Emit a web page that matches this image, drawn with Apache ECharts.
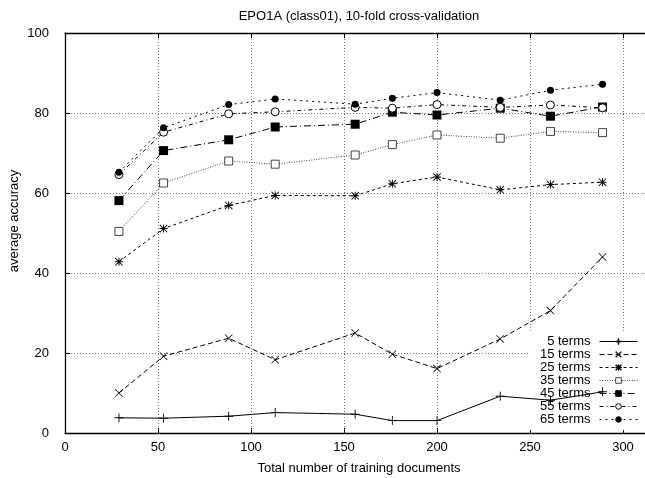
<!DOCTYPE html>
<html><head><meta charset="utf-8">
<script src="https://cdn.jsdelivr.net/npm/echarts@6/dist/echarts.min.js"></script>
<style>html,body{margin:0;padding:0;background:#fff}#c{width:645px;height:478px}</style>
</head><body><div id="c"></div>
<script>
const docs = [29, 53, 88, 113, 156, 176, 200, 234, 261, 289];
const terms5  = [3.8, 3.7, 4.2, 5.1, 4.7, 3.1, 3.1, 9.2, 8.2, 10.3];
const terms15 = [10.0, 19.2, 23.7, 18.3, 25.0, 19.7, 16.1, 23.5, 30.6, 44.0];
const terms25 = [42.8, 51.1, 56.9, 59.4, 59.3, 62.3, 64.0, 60.8, 62.1, 62.7];
const terms35 = [50.4, 62.5, 68.0, 67.2, 69.5, 72.1, 74.5, 73.7, 75.4, 75.1];
const terms45 = [58.1, 70.6, 73.3, 76.5, 77.2, 80.2, 79.5, 81.2, 79.2, 81.5];
const terms55 = [64.6, 75.2, 79.8, 80.3, 81.4, 81.2, 82.1, 81.4, 82.0, 81.3];
const terms65 = [65.2, 76.3, 82.1, 83.5, 82.2, 83.7, 85.1, 83.2, 85.7, 87.2];
const seriesNames = ['5 terms','15 terms','25 terms','35 terms','45 terms','55 terms','65 terms'];
const xTicks = {min: 0, max: 350, interval: 50};
const yTicks = {min: 0, max: 100, interval: 20};

const FONT = '"Liberation Sans", Arial, sans-serif';
const PLUS = 'path://M0,4.5H10V5.5H0Z M4.5,0H5.5V10H4.5Z';
const CROSS = 'path://M0.7,0L10,9.3L9.3,10L0,0.7Z M9.3,0L10,0.7L0.7,10L0,9.3Z';
const STAR = 'path://M0,4.4H10V5.6H0Z M4.4,0H5.6V10H4.4Z M0.8,0L10,9.2L9.2,10L0,0.8Z M9.2,0L10,0.8L0.8,10L0,9.2Z';

const styles = [
  {sym: PLUS, size: 9, dash: 'solid', color: '#000', fill: '#000', bw: 0},
  {sym: CROSS, size: 8, dash: [5,3], color: '#000', fill: '#000', bw: 0},
  {sym: STAR, size: 8, dash: [3,3], color: '#000', fill: '#000', bw: 0},
  {sym: 'rect', size: 8, dash: [1,1.5], color: '#444', fill: '#fff', bw: 1},
  {sym: 'rect', size: 9, dash: [7,3,1,3], color: '#000', fill: '#000', bw: 0},
  {sym: 'circle', size: 8, dash: [4,3,1,3], color: '#000', fill: '#fff', bw: 1},
  {sym: 'circle', size: 7, dash: [2,4], color: '#000', fill: '#000', bw: 0}
];
const values = [terms5, terms15, terms25, terms35, terms45, terms55, terms65];

const series = seriesNames.map((name, i) => {
  const s = styles[i];
  return {
    name, type: 'line', xAxisIndex: 0, yAxisIndex: 0,
    data: docs.map((x, j) => [x, values[i][j]]),
    symbol: s.sym, symbolSize: s.size, showAllSymbol: true,
    lineStyle: {color: s.color, width: 1, type: s.dash},
    itemStyle: {color: s.fill, borderColor: s.color, borderWidth: s.bw},
    emphasis: {disabled: true}, animation: false, z: 3
  };
});

const chart = echarts.init(document.getElementById('c'), null, {renderer: 'canvas'});
const gridLine = {show: true, lineStyle: {color: '#777', type: [1,2], width: 1}};
chart.setOption({
  backgroundColor: '#fff',
  animation: false,
  grid: {left: 65, top: 33, height: 400, width: 651, outerBoundsMode: 'none', containLabel: false},
  xAxis: [
    {type: 'value', position: 'bottom', min: xTicks.min, max: xTicks.max, interval: xTicks.interval,
     axisLine: {show: true, onZero: false, lineStyle: {color: '#000', width: 1.3}},
     axisTick: {show: true, inside: true, length: 5, lineStyle: {color: '#000'}},
     axisLabel: {color: '#000', fontSize: 13, fontFamily: FONT, margin: 8},
     splitLine: gridLine},
    {type: 'value', position: 'top', min: xTicks.min, max: xTicks.max, interval: xTicks.interval,
     axisLine: {show: true, onZero: false, lineStyle: {color: '#000', width: 1.3}},
     axisTick: {show: true, inside: true, length: 5, lineStyle: {color: '#000'}},
     axisLabel: {show: false}, splitLine: {show: false}}
  ],
  yAxis: [
    {type: 'value', min: yTicks.min, max: yTicks.max, interval: yTicks.interval,
     axisLine: {show: true, lineStyle: {color: '#000', width: 1.3}},
     axisTick: {show: true, inside: true, length: 5, lineStyle: {color: '#000'}},
     axisLabel: {color: '#000', fontSize: 13, fontFamily: FONT, margin: 16},
     splitLine: gridLine}
  ],
  legend: {
    orient: 'vertical', align: 'right', right: 0, top: 333,
    backgroundColor: '#fff', padding: [2, 7, 4, 10],
    itemWidth: 38, itemHeight: 7, itemGap: 0,
    lineStyle: {width: 1},
    itemStyle: {borderWidth: 1},
    textStyle: {color: '#000', fontSize: 13, fontFamily: FONT, lineHeight: 13, padding: [0, 4, 0, 0]},
    selectedMode: false, z: 1,
    data: seriesNames
  },
  graphic: [
    {type: 'text', x: 359, y: 16, style: {text: 'EPO1A (class01), 10-fold cross-validation', font: '13px ' + FONT, fill: '#000', textAlign: 'center', textVerticalAlign: 'middle'}},
    {type: 'text', x: 359, y: 468, style: {text: 'Total number of training documents', font: '13px ' + FONT, fill: '#000', textAlign: 'center', textVerticalAlign: 'middle'}},
    {type: 'text', x: 14, y: 221, rotation: Math.PI / 2, style: {text: 'average accuracy', font: '13px ' + FONT, fill: '#000', textAlign: 'center', textVerticalAlign: 'middle'}}
  ],
  series
});
</script></body></html>
